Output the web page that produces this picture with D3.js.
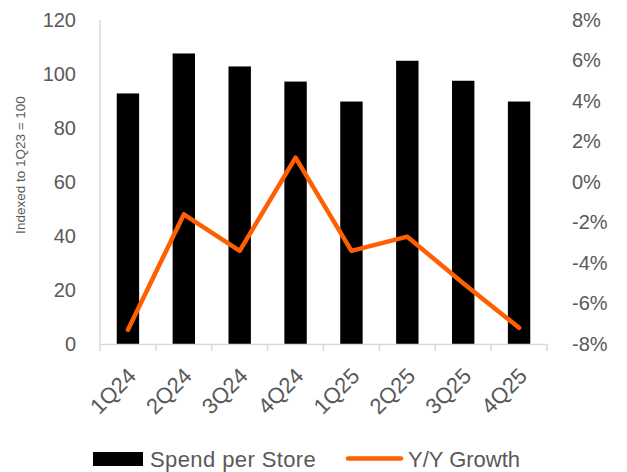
<!DOCTYPE html>
<html>
<head>
<meta charset="utf-8">
<script src="https://cdn.jsdelivr.net/npm/d3@7"></script>
<style>
  body { margin: 0; background: #fff; }
  svg { display: block; font-family: "Liberation Sans", Arial, sans-serif; }
</style>
</head>
<body>
<svg id="chart" width="627" height="472"></svg>
<script>
const categories = ["1Q24", "2Q24", "3Q24", "4Q24", "1Q25", "2Q25", "3Q25", "4Q25"];
const spendPerStore = [92.8, 107.6, 102.8, 97.2, 89.8, 104.9, 97.5, 89.8];
const yoyGrowth = [-7.3, -1.6, -3.4, 1.2, -3.4, -2.7, -5.0, -7.2];
const leftTicks = [0, 20, 40, 60, 80, 100, 120];
const rightTicks = [-8, -6, -4, -2, 0, 2, 4, 6, 8];
const seriesNames = ["Spend per Store", "Y/Y Growth"];

const svg = d3.select("#chart");
const textColor = "#595959";
const axisColor = "#d9d9d9";
const orange = "#FF5F00";

const plot = { left: 100, right: 547, top: 20, bottom: 344 };

const xBand = d3.scaleBand().domain(categories).range([plot.left, plot.right]);
const yL = d3.scaleLinear().domain([0, 120]).range([plot.bottom, plot.top]);
const yR = d3.scaleLinear().domain([-8, 8]).range([plot.bottom, plot.top]);

// bars
svg.append("g").selectAll("rect").data(categories).join("rect")
  .attr("x", (d) => xBand(d) + xBand.bandwidth() / 2 - 11.2)
  .attr("width", 22.4)
  .attr("y", (d, i) => yL(spendPerStore[i]))
  .attr("height", (d, i) => yL(0) - yL(spendPerStore[i]))
  .attr("fill", "#000");

// left axis line
svg.append("line").attr("x1", plot.left).attr("x2", plot.left)
  .attr("y1", plot.top).attr("y2", plot.bottom)
  .attr("stroke", axisColor).attr("stroke-width", 1.5);

// bottom axis
const bottom = svg.append("g").attr("transform", `translate(0,${plot.bottom})`)
  .call(d3.axisBottom(xBand).tickSize(0).tickFormat(""));
bottom.select(".domain").attr("stroke", axisColor).attr("stroke-width", 1.5);
const boundaries = categories.map((c) => xBand(c)).concat([plot.right]);
svg.append("g").selectAll("line").data(boundaries).join("line")
  .attr("x1", (d) => d).attr("x2", (d) => d)
  .attr("y1", plot.bottom).attr("y2", plot.bottom + 7)
  .attr("stroke", axisColor).attr("stroke-width", 1.5);

// x labels
svg.append("g").selectAll("text").data(categories).join("text")
  .attr("transform", (d) => `translate(${xBand(d) + xBand.bandwidth() / 2 + 4},${plot.bottom + 28}) rotate(-45)`)
  .attr("text-anchor", "end")
  .attr("dy", "0.35em")
  .attr("fill", textColor)
  .attr("font-size", 22)
  .text((d) => d);

// left tick labels
const leftAxis = svg.append("g").attr("transform", `translate(${plot.left},0)`)
  .call(d3.axisLeft(yL).tickValues(leftTicks).tickSize(0).tickPadding(24));
leftAxis.select(".domain").remove();
leftAxis.selectAll("text").attr("fill", textColor).attr("font-size", 20)
  .attr("font-family", "Liberation Sans, Arial, sans-serif");

// right tick labels
const rightAxis = svg.append("g").attr("transform", `translate(${plot.right},0)`)
  .call(d3.axisRight(yR).tickValues(rightTicks).tickSize(0).tickPadding(25).tickFormat((d) => d + "%"));
rightAxis.select(".domain").remove();
rightAxis.selectAll("text").attr("fill", textColor).attr("font-size", 20)
  .attr("font-family", "Liberation Sans, Arial, sans-serif");

// y title
svg.append("text")
  .attr("transform", `translate(25,165) rotate(-90)`)
  .attr("text-anchor", "middle")
  .attr("fill", textColor)
  .attr("font-size", 13.5)
  .text("Indexed to 1Q23 = 100");

// line
const line = d3.line()
  .x((d, i) => xBand(categories[i]) + xBand.bandwidth() / 2)
  .y((d) => yR(d));
svg.append("path").datum(yoyGrowth)
  .attr("d", line)
  .attr("fill", "none")
  .attr("stroke", orange)
  .attr("stroke-width", 4.5)
  .attr("stroke-linejoin", "round")
  .attr("stroke-linecap", "round");

// legend
const lg = svg.append("g");
lg.append("rect").attr("x", 93).attr("y", 452).attr("width", 50).attr("height", 14).attr("fill", "#000");
lg.append("text").attr("x", 150).attr("y", 467).attr("fill", textColor).attr("font-size", 22)
  .attr("letter-spacing", 0.4).text(seriesNames[0]);
lg.append("line").attr("x1", 348).attr("x2", 401).attr("y1", 458.5).attr("y2", 458.5)
  .attr("stroke", orange).attr("stroke-width", 4.5).attr("stroke-linecap", "round");
lg.append("text").attr("x", 408).attr("y", 467).attr("fill", textColor).attr("font-size", 22).text(seriesNames[1]);
</script>
</body>
</html>
